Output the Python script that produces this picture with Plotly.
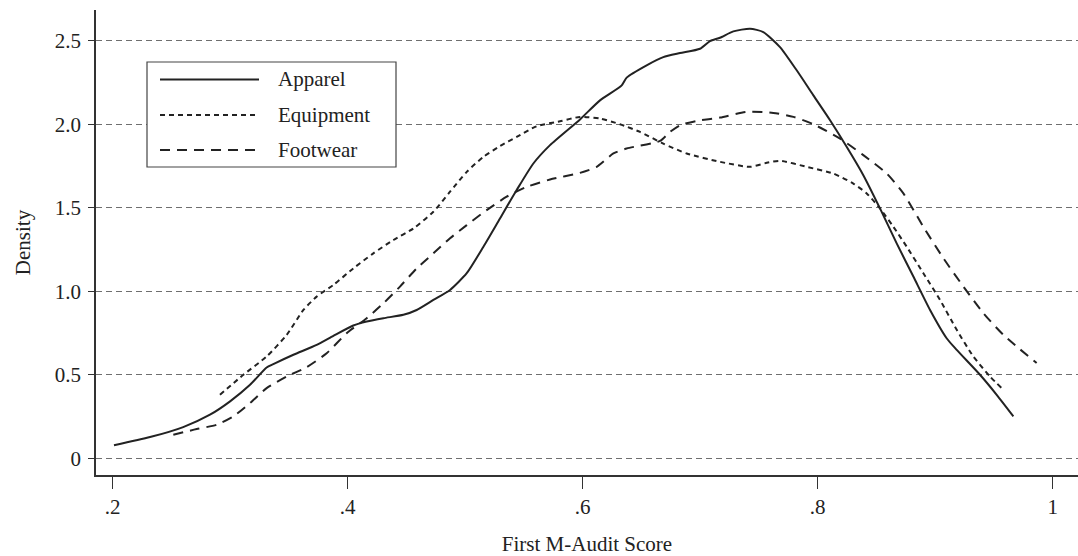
import plotly.graph_objects as go

# ---- data ----
apparel_x = [0.2011, 0.2318, 0.2600, 0.2828, 0.2999, 0.3169, 0.3310, 0.3367, 0.3538, 0.3736,
             0.3878, 0.4048, 0.4162, 0.4304, 0.4474, 0.4587, 0.4729, 0.4871, 0.5013, 0.5155,
             0.5296, 0.5438, 0.5580, 0.5722, 0.5977, 0.6147, 0.6332, 0.6374, 0.6544, 0.6686,
             0.6828, 0.6998, 0.7083, 0.7168, 0.7282, 0.7424, 0.7537, 0.7679, 0.7821, 0.7963,
             0.8105, 0.8246, 0.8388, 0.8530, 0.8672, 0.8814, 0.8956, 0.9097, 0.9183, 0.9381,
             0.9523, 0.9665]
apparel_y = [0.078, 0.127, 0.187, 0.261, 0.341, 0.440, 0.544, 0.564, 0.620, 0.679,
             0.733, 0.795, 0.819, 0.839, 0.859, 0.888, 0.948, 1.008, 1.108, 1.267,
             1.436, 1.606, 1.765, 1.875, 2.029, 2.143, 2.233, 2.279, 2.353, 2.402,
             2.426, 2.452, 2.498, 2.518, 2.556, 2.572, 2.552, 2.462, 2.323, 2.173,
             2.024, 1.865, 1.695, 1.496, 1.287, 1.088, 0.888, 0.719, 0.649, 0.500,
             0.380, 0.251]

equipment_x = [0.2913, 0.3112, 0.3311, 0.3481, 0.3623, 0.3736, 0.3878, 0.4048, 0.4218, 0.4389,
               0.4559, 0.4729, 0.4871, 0.5013, 0.5155, 0.5296, 0.5438, 0.5608, 0.5807, 0.5977,
               0.6147, 0.6317, 0.6488, 0.6686, 0.6885, 0.7169, 0.7424, 0.7566, 0.7679, 0.7906,
               0.8133, 0.8303, 0.8417, 0.8530, 0.8644, 0.8757, 0.8899, 0.9041, 0.9183, 0.9324,
               0.9466, 0.9566]
equipment_y = [0.380, 0.500, 0.610, 0.739, 0.888, 0.968, 1.038, 1.137, 1.227, 1.307,
               1.376, 1.476, 1.596, 1.715, 1.805, 1.869, 1.924, 1.988, 2.018, 2.044,
               2.034, 2.000, 1.954, 1.884, 1.825, 1.775, 1.745, 1.769, 1.781, 1.745,
               1.705, 1.645, 1.586, 1.496, 1.386, 1.267, 1.108, 0.948, 0.769, 0.610,
               0.490, 0.420]

footwear_x = [0.2516, 0.2715, 0.2885, 0.3027, 0.3169, 0.3310, 0.3481, 0.3651, 0.3821, 0.3991,
              0.4162, 0.4304, 0.4445, 0.4587, 0.4729, 0.4871, 0.5013, 0.5183, 0.5353, 0.5523,
              0.5722, 0.5977, 0.6119, 0.6261, 0.6374, 0.6658, 0.6743, 0.6828, 0.6970, 0.7169,
              0.7396, 0.7622, 0.7793, 0.7963, 0.8190, 0.8388, 0.8587, 0.8729, 0.8899, 0.9070,
              0.9240, 0.9410, 0.9580, 0.9863]
footwear_y = [0.141, 0.175, 0.201, 0.251, 0.331, 0.420, 0.490, 0.546, 0.629, 0.749,
              0.839, 0.928, 1.028, 1.137, 1.227, 1.317, 1.396, 1.486, 1.566, 1.625,
              1.669, 1.709, 1.745, 1.825, 1.855, 1.900, 1.954, 1.994, 2.020, 2.040,
              2.074, 2.068, 2.044, 2.000, 1.914, 1.815, 1.705, 1.586, 1.386, 1.197,
              1.028, 0.869, 0.739, 0.570]

series_names = ["Apparel", "Equipment", "Footwear"]
x_tick_vals = [0.2, 0.4, 0.6, 0.8, 1.0]
x_tick_text = [".2", ".4", ".6", ".8", "1"]
y_tick_vals = [0, 0.5, 1.0, 1.5, 2.0, 2.5]
y_tick_text = ["0", "0.5", "1.0", "1.5", "2.0", "2.5"]

# ---- layout geometry (pixels) ----
W, H = 1078, 556
ML, MR, MT, MB = 96, 0, 10, 81
PW, PH = W - ML - MR, H - MT - MB
FONT = "Liberation Serif, Times New Roman, serif"
INK = "#222222"


def px_x(px):
    return (px - ML) / PW


def px_y(py):
    return (H - MB - py) / PH


dashes = ["solid", "5px,4px", "10px,7px"]
series = [(apparel_x, apparel_y), (equipment_x, equipment_y), (footwear_x, footwear_y)]

fig = go.Figure()
for name, (xs, ys), dash in zip(series_names, series, dashes):
    fig.add_trace(go.Scatter(
        x=xs, y=ys, mode="lines", name=name,
        line=dict(color=INK, width=2, dash=dash, shape="spline", smoothing=0.6),
        showlegend=False,
    ))

# manual legend box (Stata style)
shapes = [dict(type="rect", xref="paper", yref="paper",
               x0=px_x(147), x1=px_x(396), y0=px_y(167), y1=px_y(62),
               line=dict(color="#444444", width=1.2), fillcolor="white", layer="above")]
annotations = []
legend_rows = [79.5, 115, 150]
for name, dash, ry in zip(series_names, dashes, legend_rows):
    shapes.append(dict(type="line", xref="paper", yref="paper",
                       x0=px_x(160), x1=px_x(259), y0=px_y(ry), y1=px_y(ry),
                       line=dict(color=INK, width=2, dash=dash), layer="above"))
    annotations.append(dict(xref="paper", yref="paper", x=px_x(276), y=px_y(ry),
                            text=name, showarrow=False, xanchor="left", yanchor="middle",
                            font=dict(family=FONT, size=21, color=INK)))

fig.update_layout(
    width=W, height=H,
    margin=dict(l=ML, r=MR, t=MT, b=MB, pad=0, autoexpand=False),
    paper_bgcolor="white", plot_bgcolor="white",
    font=dict(family=FONT, size=21, color=INK),
    shapes=shapes, annotations=annotations,
    showlegend=False,
)
fig.update_xaxes(
    range=[0.1858, 1.0215], tickmode="array", tickvals=x_tick_vals, ticktext=x_tick_text,
    showgrid=False, zeroline=False, showline=True, linecolor="#333333", linewidth=1.5,
    ticks="outside", ticklen=12, tickcolor="#333333", tickwidth=1,
    ticklabelstandoff=0, automargin=False,
    title=dict(text="First M-Audit Score", font=dict(family=FONT, size=21), standoff=18),
)
fig.update_yaxes(
    range=[-0.1, 2.684], tickmode="array", tickvals=y_tick_vals, ticktext=y_tick_text,
    showgrid=True, gridcolor="#6f6f6f", gridwidth=1, griddash="6px,4px",
    zeroline=False, showline=True, linecolor="#333333", linewidth=1.5,
    ticks="outside", ticklen=6, tickcolor="#333333", tickwidth=1,
    ticklabelstandoff=3, automargin=False,
    title=dict(text="Density", font=dict(family=FONT, size=21), standoff=18),
)

fig.write_html("out.html", config={"displayModeBar": False},
               post_script="document.body.style.margin='0';")
